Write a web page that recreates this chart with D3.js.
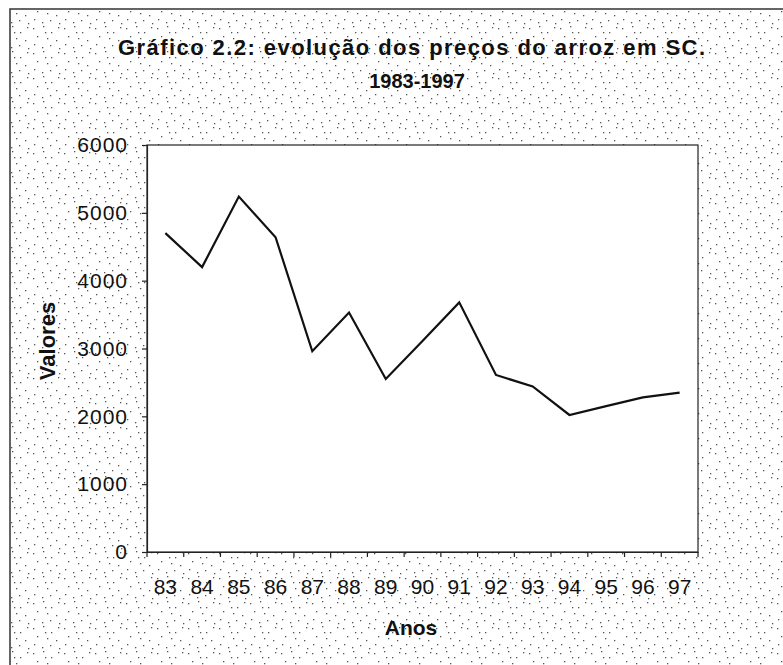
<!DOCTYPE html>
<html><head><meta charset="utf-8">
<script src="https://cdn.jsdelivr.net/npm/d3@7"></script>
<style>body{margin:0;background:#fff}svg{display:block}</style>
</head><body>
<script>
const years = ["83","84","85","86","87","88","89","90","91","92","93","94","95","96","97"];
const prices = [4700,4200,5240,4640,2960,3530,2550,3110,3680,2610,2440,2020,2150,2280,2350];
const yTicks = [0,1000,2000,3000,4000,5000,6000];
const titleLines = ["Gráfico 2.2: evolução dos preços do arroz em SC.","1983-1997"];
const xTitle = "Anos", yTitle = "Valores";

const W = 783, H = 665;
const m = {left:147, top:145, right:698, bottom:552};
const svg = d3.select("body").append("svg").attr("width",W).attr("height",H);
const defs = svg.append("defs");
const pat = defs.append("pattern").attr("id","stip").attr("patternUnits","userSpaceOnUse").attr("width",31).attr("height",25);
const dots = [[2,3],[12,1],[20,7],[27,2],[6,11],[16,13],[25,15],[3,19],[11,22],[19,20],[28,23],[14,7]];
dots.forEach(d=>pat.append("rect").attr("x",d[0]).attr("y",d[1]).attr("width",1.3).attr("height",1.3).attr("fill","#555"));
svg.append("rect").attr("width",W).attr("height",H).attr("fill","#fff");
svg.append("rect").attr("x",10).attr("y",9).attr("width",W+20).attr("height",H+20).attr("fill","url(#stip)").attr("stroke","#333").attr("stroke-width",1.5);

const x = d3.scaleBand().domain(years).range([m.left,m.right]);
const y = d3.scaleLinear().domain([0,6000]).range([m.bottom,m.top]);

svg.append("rect").attr("x",m.left).attr("y",m.top).attr("width",m.right-m.left).attr("height",m.bottom-m.top)
  .attr("fill","#fff").attr("stroke","#222").attr("stroke-width",1.2);

const font = "'Liberation Sans', Arial, sans-serif";
const yAx = svg.append("g").attr("transform",`translate(${m.left},0)`)
  .call(d3.axisLeft(y).tickValues(yTicks).tickSize(5).tickPadding(14).tickFormat(d3.format("d")));
yAx.selectAll("text").attr("font-family",font).attr("font-size",21).attr("letter-spacing",1).attr("fill","#111");
yAx.selectAll("line,path").attr("stroke","#222").attr("stroke-width",1.2);

const xAx = svg.append("g").attr("transform",`translate(0,${m.bottom})`)
  .call(d3.axisBottom(x).tickSize(0).tickPadding(27));
xAx.selectAll("text").attr("font-family",font).attr("font-size",21).attr("fill","#111");
xAx.selectAll("path").attr("stroke","#222").attr("stroke-width",1.2);
xAx.selectAll(".sep").data(d3.range(years.length+1)).enter().append("line")
  .attr("x1",i=>m.left+i*x.step()).attr("x2",i=>m.left+i*x.step()).attr("y1",0).attr("y2",5)
  .attr("stroke","#222").attr("stroke-width",1.2);

const line = d3.line().x((d,i)=>x(years[i])+x.bandwidth()/2).y(d=>y(d));
svg.append("path").datum(prices).attr("d",line).attr("fill","none").attr("stroke","#111").attr("stroke-width",2.2).attr("stroke-linejoin","miter");

svg.append("text").attr("x",118).attr("y",55).attr("textLength",587).attr("lengthAdjust","spacing")
  .attr("font-family",font).attr("font-weight","bold").attr("font-size",22).attr("fill","#111").text(titleLines[0]);
svg.append("text").attr("x",417).attr("y",88).attr("text-anchor","middle")
  .attr("font-family",font).attr("font-weight","bold").attr("font-size",20).attr("fill","#111").text(titleLines[1]);

svg.append("text").attr("x",411).attr("y",635).attr("text-anchor","middle")
  .attr("font-family",font).attr("font-weight","bold").attr("font-size",21).attr("fill","#111").text(xTitle);
svg.append("text").attr("transform","translate(55,341) rotate(-90)").attr("text-anchor","middle")
  .attr("font-family",font).attr("font-weight","bold").attr("font-size",22).attr("fill","#111").text(yTitle);
</script>
</body></html>
